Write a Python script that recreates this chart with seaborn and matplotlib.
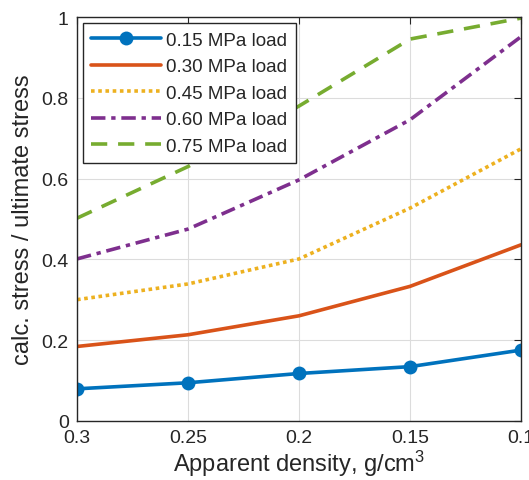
import numpy as np
import pandas as pd
import matplotlib
matplotlib.use("Agg")
import matplotlib.pyplot as plt
import seaborn as sns

# Apparent density (g/cm^3) and stress ratio for each applied load
density = [0.3, 0.25, 0.2, 0.15, 0.1]
load_labels = ["0.15 MPa load", "0.30 MPa load", "0.45 MPa load",
               "0.60 MPa load", "0.75 MPa load"]
ratio_015 = [0.079, 0.094, 0.117, 0.134, 0.175]
ratio_030 = [0.184, 0.213, 0.260, 0.333, 0.436]
ratio_045 = [0.300, 0.339, 0.401, 0.527, 0.674]
ratio_060 = [0.401, 0.475, 0.597, 0.746, 0.952]
ratio_075 = [0.502, 0.630, 0.780, 0.946, 0.998]
x_ticks = [0.3, 0.25, 0.2, 0.15, 0.1]
x_tick_labels = ["0.3", "0.25", "0.2", "0.15", "0.1"]
y_ticks = [0, 0.2, 0.4, 0.6, 0.8, 1.0]
y_tick_labels = ["0", "0.2", "0.4", "0.6", "0.8", "1"]

sns.set_style("white")
plt.rcParams["font.family"] = ["Liberation Sans", "DejaVu Sans"]
plt.rcParams["mathtext.fontset"] = "custom"
plt.rcParams["mathtext.rm"] = "Liberation Sans"
plt.rcParams["mathtext.it"] = "Liberation Sans:italic"

series = [ratio_015, ratio_030, ratio_045, ratio_060, ratio_075]
colors = ["#0072BD", "#D95319", "#EDB120", "#7E2F8E", "#77AC30"]
styles = [
    dict(linestyle="-", marker="o", markersize=10),
    dict(linestyle="-"),
    dict(linestyle=(0, (1.0, 1.0))),
    dict(linestyle=(0, (4.0, 1.6, 1.2, 1.6))),
    dict(linestyle=(0, (4.5, 3.0))),
]

df = pd.DataFrame({
    "density": np.tile(density, len(series)),
    "ratio": np.concatenate(series),
    "load": np.repeat(load_labels, len(density)),
})

fig = plt.figure(figsize=(5.29, 4.81), dpi=100)
ax = fig.add_axes([0.1456, 0.1233, 0.8394, 0.8387])

for lbl, col, st in zip(load_labels, colors, styles):
    sub = df[df["load"] == lbl]
    sns.lineplot(data=sub, x="density", y="ratio", ax=ax, color=col,
                 linewidth=2.6, label=lbl, sort=False, markeredgewidth=0, **st)

ax.set_xlim(0.3, 0.1)
ax.set_ylim(0, 1)
ax.set_xticks(x_ticks)
ax.set_xticklabels(x_tick_labels)
ax.set_yticks(y_ticks)
ax.set_yticklabels(y_tick_labels)
ax.grid(True, color="#dcdcdc", linewidth=0.8)
ax.set_axisbelow(True)

axis_col = "#262626"
for sp in ax.spines.values():
    sp.set_visible(True)
    sp.set_color(axis_col)
    sp.set_linewidth(1.0)
ax.tick_params(direction="in", length=5, width=0.8, colors=axis_col,
               labelsize=14, top=True, right=True, pad=6)
for t in ax.get_xticklabels() + ax.get_yticklabels():
    t.set_color(axis_col)

ax.set_xlabel("Apparent density, g/cm$^3$", fontsize=17, color=axis_col, labelpad=1)
ax.set_ylabel("calc. stress / ultimate stress", fontsize=17, color=axis_col, labelpad=5)

leg = ax.legend(loc="upper left", bbox_to_anchor=(0.0135, 0.985), borderaxespad=0,
                fontsize=13.5, handlelength=3.7, handletextpad=0.3,
                labelspacing=0.5, borderpad=0.45, fancybox=False,
                framealpha=1, edgecolor=axis_col)
leg.get_frame().set_linewidth(1.0)
for t in leg.get_texts():
    t.set_color(axis_col)

fig.savefig("out.png", dpi=100)
